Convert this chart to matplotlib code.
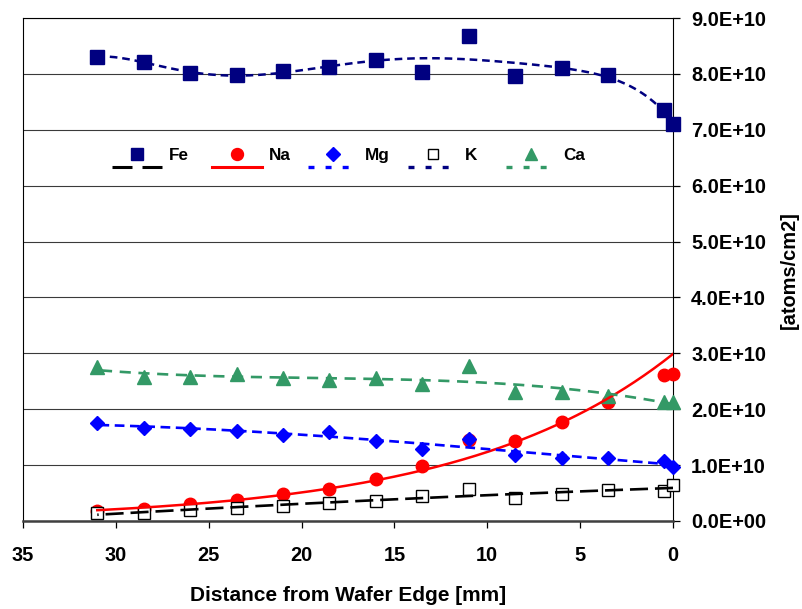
import numpy as np
import matplotlib
matplotlib.use('Agg')
import matplotlib.pyplot as plt
from matplotlib.lines import Line2D

plt.rcParams['font.family'] = ['Liberation Sans', 'DejaVu Sans']
plt.rcParams['font.weight'] = 'bold'
plt.rcParams['lines.scale_dashes'] = False

# ---- data (atoms/cm2, in units of 1E10) ----
distance_mm = [31, 28.5, 26, 23.5, 21, 18.5, 16, 13.5, 11, 8.5, 6, 3.5, 0.5, 0]
fe = [8.31, 8.21, 8.01, 7.98, 8.06, 8.13, 8.24, 8.04, 8.68, 7.96, 8.10, 7.98, 7.35, 7.11]
na = [0.185, 0.21, 0.30, 0.38, 0.48, 0.58, 0.76, 0.98, 1.45, 1.44, 1.77, 2.13, 2.61, 2.63]
mg = [1.75, 1.66, 1.64, 1.61, 1.54, 1.60, 1.44, 1.29, 1.47, 1.18, 1.12, 1.12, 1.08, 0.97]
k_ = [0.137, 0.15, 0.20, 0.23, 0.27, 0.32, 0.36, 0.44, 0.57, 0.41, 0.49, 0.55, 0.54, 0.64]
ca = [2.75, 2.58, 2.58, 2.63, 2.55, 2.53, 2.55, 2.45, 2.77, 2.31, 2.31, 2.24, 2.13, 2.13]
scale = 1e10
series_names = ['Fe', 'Na', 'Mg', 'K', 'Ca']
x_ticks = [35, 30, 25, 20, 15, 10, 5, 0]
y_ticks = [0, 1, 2, 3, 4, 5, 6, 7, 8, 9]

x = np.array(distance_mm, dtype=float)
xs = np.linspace(x.min(), x.max(), 300)


def poly_trend(y, deg):
    c = np.polyfit(x, np.array(y) * scale, deg)
    return np.polyval(c, xs)


def exp_trend(y):
    c = np.polyfit(x, np.log(np.array(y) * scale), 1)
    return np.exp(np.polyval(c, xs))


W, H = 802, 609
fig = plt.figure(figsize=(W / 100, H / 100), dpi=100)
ax = fig.add_axes([23 / W, 1 - 521 / H, 650 / W, 503 / H])

NAVY = '#000080'
RED = '#FF0000'
BLUE = '#0000FF'
GREEN = '#339966'

# markers
mk = dict(ls='none', zorder=3, clip_on=False)
ax.plot(x, np.array(fe) * scale, marker='s', ms=9.6, color=NAVY, mec=NAVY, **mk)
ax.plot(x, np.array(na) * scale, marker='o', ms=9.0, color=RED, mec=RED, **mk)
ax.plot(x, np.array(mg) * scale, marker='D', ms=7.6, color=BLUE, mec=BLUE, **mk)
ax.plot(x, np.array(k_) * scale, marker='s', ms=8.6, mfc='white', mec='black', mew=1.0, **mk)
ax.plot(x, np.array(ca) * scale, marker='^', ms=9.6, color=GREEN, mec=GREEN, **mk)

# trend lines
ax.plot(xs, poly_trend(fe, 6), color=NAVY, lw=1.8, dashes=(5.5, 3.5), zorder=4)
ax.plot(xs, exp_trend(na), color=RED, lw=1.8, zorder=4)
ax.plot(xs, poly_trend(mg, 3), color=BLUE, lw=1.9, dashes=(7, 4), zorder=4)
ax.plot(xs, poly_trend(k_, 2), color='black', lw=1.9, dashes=(13, 5), zorder=4)
ax.plot(xs, poly_trend(ca, 3), color=GREEN, lw=1.9, dashes=(8, 5.5), zorder=4)

ax.set_xlim(35, 0)
ax.set_ylim(0, 9 * scale)
ax.set_xticks(x_ticks)
ax.set_xticklabels([str(t) for t in x_ticks])
ax.set_yticks([t * scale for t in y_ticks])
ax.set_yticklabels(['{:.1E}'.format(t * scale) for t in y_ticks])
ax.yaxis.tick_right()
ax.tick_params(axis='both', direction='out', length=5, width=0.9, colors='black', labelsize=14.4)
ax.tick_params(axis='x', pad=13)
ax.tick_params(axis='y', pad=8)
for lab in ax.get_xticklabels() + ax.get_yticklabels():
    lab.set_fontweight('bold')

ax.grid(axis='y', color='#3a3a3a', lw=0.8, zorder=1)
ax.set_axisbelow(True)
for s in ['left', 'right', 'top']:
    ax.spines[s].set_color('black')
    ax.spines[s].set_linewidth(0.8)
ax.spines['bottom'].set_color('#404040')
ax.spines['bottom'].set_linewidth(1.8)

ax.set_xlabel('Distance from Wafer Edge [mm]', fontsize=15, fontweight='bold', labelpad=15)
fig.text(789 / W, 1 - 270 / H, '[atoms/cm2]', rotation=90, ha='center', va='center',
         fontsize=14.4, fontweight='bold')

# legend: markers row + trendline row, one legend per column
marker_handles = [
    Line2D([], [], ls='none', marker='s', ms=8.4, color=NAVY),
    Line2D([], [], ls='none', marker='o', ms=8.6, color=RED),
    Line2D([], [], ls='none', marker='D', ms=7.0, color=BLUE),
    Line2D([], [], ls='none', marker='s', ms=7.2, mfc='white', mec='black', mew=1.0),
    Line2D([], [], ls='none', marker='^', ms=9.0, color=GREEN),
]
line_handles = [
    Line2D([], [], color='black', lw=2.2, dashes=(14.4, 7.2)),
    Line2D([], [], color=RED, lw=2.2),
    Line2D([], [], color=BLUE, lw=2.4, dashes=(4.3, 8)),
    Line2D([], [], color=NAVY, lw=2.4, dashes=(4.3, 8)),
    Line2D([], [], color=GREEN, lw=2.4, dashes=(4.3, 8)),
]
col_left_px = [112, 212, 308, 408, 506]
for i, name in enumerate(series_names):
    leg = ax.legend([marker_handles[i], line_handles[i]], [name, ''],
                    loc='center left', bbox_to_anchor=(col_left_px[i] / W, 1 - 162 / H),
                    bbox_transform=fig.transFigure, frameon=False, borderpad=0,
                    borderaxespad=0, handlelength=2.93, handletextpad=0.4,
                    labelspacing=-0.1, prop={'weight': 'bold', 'size': 12.3})
    if i < len(series_names) - 1:
        ax.add_artist(leg)

fig.savefig('out.png', dpi=100)
